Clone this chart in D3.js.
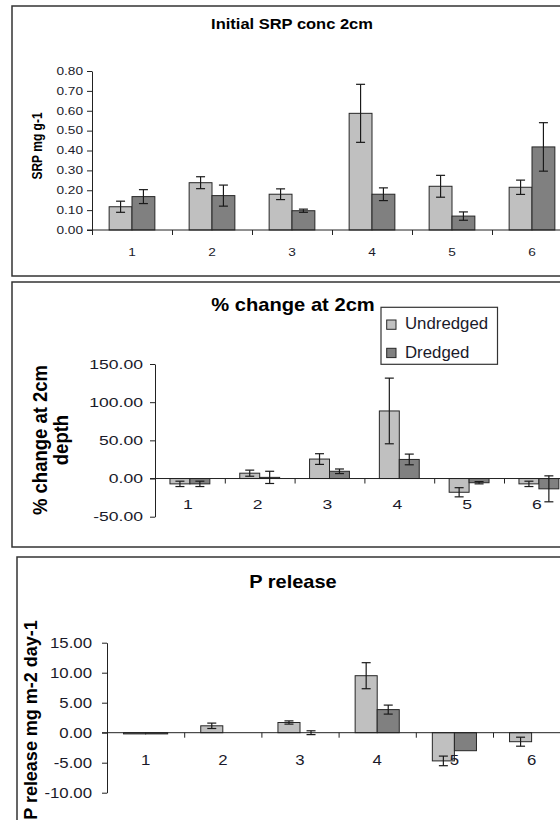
<!DOCTYPE html>
<html>
<head>
<meta charset="utf-8">
<script src="https://cdn.jsdelivr.net/npm/d3@7"></script>
<style>
  body { margin: 0; background: #fff; }
  svg { display: block; font-family: "Liberation Sans", Arial, sans-serif; }
</style>
</head>
<body>
<svg id="chart" width="560" height="820"></svg>
<script>
// ---- data ----
var categories = ["1", "2", "3", "4", "5", "6"];
var series = ["Undredged", "Dredged"];

// Initial SRP conc 2cm
var srpUndredged = [0.117, 0.238, 0.180, 0.587, 0.220, 0.215];
var srpUndredgedErr = [0.028, 0.030, 0.027, 0.146, 0.055, 0.036];
var srpDredged = [0.168, 0.173, 0.097, 0.180, 0.070, 0.418];
var srpDredgedErr = [0.035, 0.053, 0.008, 0.032, 0.021, 0.122];
var srpTicks = [0, 0.1, 0.2, 0.3, 0.4, 0.5, 0.6, 0.7, 0.8];

// % change at 2cm
var pctUndredged = [-7, 7, 25.5, 88.5, -18, -7];
var pctUndredgedErr = [3.5, 4, 7, 43, 6, 3.5];
var pctDredged = [-7, 1.5, 9.5, 25, -5.5, -13.5];
var pctDredgedErr = [3.5, 8, 3, 7, 1.5, 17];
var pctTicks = [-50, 0, 50, 100, 150];

// P release
var relUndredged = [-0.2, 1.15, 1.7, 9.5, -4.7, -1.5];
var relUndredgedErr = [0, 0.45, 0.27, 2.17, 0.8, 0.75];
var relDredged = [-0.2, 0, 0, 3.85, -3.0, 0];
var relDredgedErr = [0, 0, 0.32, 0.75, 0, 0];
var relTicks = [-10, -5, 0, 5, 10, 15];

var fills = { "Undredged": "#c0c0c0", "Dredged": "#808080" };

var svg = d3.select("#chart");

// text helper: stretched text like the source picture
function label(g, txt, x, y, size, sx, opts) {
  opts = opts || {};
  var t = "translate(" + x + "," + y + ") scale(" + sx + ",1)";
  if (opts.rotate) t += " rotate(-90)";
  return g.append("text")
    .attr("transform", t)
    .attr("font-size", size)
    .attr("font-weight", opts.bold ? "bold" : "normal")
    .attr("text-anchor", opts.anchor || "middle")
    .attr("fill", opts.color || "#000")
    .text(txt);
}

function panel(cfg) {
  var g = svg.append("g");

  // frame
  g.append("rect")
    .attr("x", cfg.box[0]).attr("y", cfg.box[1])
    .attr("width", cfg.box[2]).attr("height", cfg.box[3])
    .attr("fill", "#fff").attr("stroke", "#333").attr("stroke-width", 1.5);

  var x = d3.scaleBand().domain(categories)
    .range([cfg.x0, cfg.x0 + 6 * cfg.step]).padding(0);
  var xs = d3.scaleBand().domain(series)
    .range([0, x.bandwidth()]).paddingInner(0).paddingOuter(0.75);
  var xl = d3.scaleLinear().domain([0, 6]).range(x.range());
  var y = d3.scaleLinear().domain(cfg.domain).range(cfg.yRange);

  var rows = categories.map(function (c, i) {
    return [
      { cat: c, s: "Undredged", v: cfg.und[i], e: cfg.undErr[i] },
      { cat: c, s: "Dredged", v: cfg.dre[i], e: cfg.dreErr[i] }
    ];
  });
  var flat = [].concat.apply([], rows);

  // bars
  g.append("g").selectAll("rect")
    .data(flat.filter(function (d) { return d.v !== 0; }))
    .enter().append("rect")
    .attr("x", function (d) { return x(d.cat) + xs(d.s); })
    .attr("y", function (d) { return y(Math.max(0, d.v)); })
    .attr("width", xs.bandwidth())
    .attr("height", function (d) { return Math.abs(y(d.v) - y(0)); })
    .attr("fill", function (d) { return fills[d.s]; })
    .attr("stroke", "#262626").attr("stroke-width", 1);

  // x axis at zero: tick marks on boundaries, labels at centers
  var xAxis = g.append("g").attr("transform", "translate(0," + y(0) + ")")
    .call(d3.axisBottom(xl).tickValues(d3.range(7)).tickFormat("").tickSize(5).tickSizeOuter(0));
  xAxis.select(".domain").attr("stroke", "#222");
  xAxis.selectAll(".tick line").attr("stroke", "#222");
  xAxis.select(".domain").attr("d", "M" + (cfg.x0 - 5) + ",0H" + (cfg.x0 + 6 * cfg.step));

  categories.forEach(function (c) {
    label(g, c, x(c) + x.bandwidth() / 2 + (cfg.catShift || 0), cfg.catY, cfg.tickSize, cfg.tickSx, { color: "#1a1a2a" });
  });

  // error bars
  var eb = g.append("g").attr("stroke", "#1a1a1a").attr("stroke-width", 1.2);
  var withErr = flat.filter(function (d) { return d.e > 0; });
  eb.selectAll("line.v").data(withErr).enter().append("line")
    .attr("x1", function (d) { return x(d.cat) + xs(d.s) + xs.bandwidth() / 2; })
    .attr("x2", function (d) { return x(d.cat) + xs(d.s) + xs.bandwidth() / 2; })
    .attr("y1", function (d) { return y(d.v + d.e); })
    .attr("y2", function (d) { return y(d.v - d.e); });
  [1, -1].forEach(function (sg) {
    eb.selectAll("line.c" + sg).data(withErr).enter().append("line")
      .attr("x1", function (d) { return x(d.cat) + xs(d.s) + xs.bandwidth() / 2 - cfg.cap; })
      .attr("x2", function (d) { return x(d.cat) + xs(d.s) + xs.bandwidth() / 2 + cfg.cap; })
      .attr("y1", function (d) { return y(d.v + sg * d.e); })
      .attr("y2", function (d) { return y(d.v + sg * d.e); });
  });

  // y axis
  var yAxis = g.append("g").attr("transform", "translate(" + cfg.x0 + ",0)")
    .call(d3.axisLeft(y).tickValues(cfg.ticks).tickFormat("").tickSize(5).tickSizeOuter(0));
  yAxis.select(".domain").attr("stroke", "#222");
  yAxis.selectAll(".tick line").attr("stroke", "#222");
  cfg.ticks.forEach(function (t) {
    label(g, t.toFixed(2), cfg.x0 - cfg.labelGap, y(t) + cfg.tickSize * 0.36, cfg.tickSize, cfg.tickSx,
      { anchor: "end", color: "#1a1a2a" });
  });

  // title
  label(g, cfg.title, cfg.titleX, cfg.titleY, cfg.titleSize, cfg.titleSx, { bold: true });

  // y axis title (one or more lines)
  cfg.yTitle.forEach(function (line, i) {
    label(g, line, cfg.yTitleX[i], cfg.yTitleY, cfg.yTitleSize, cfg.yTitleSx, { bold: true, rotate: true });
  });

  return g;
}

panel({
  box: [12, 6, 620, 270],
  x0: 92, step: 80,
  domain: [0, 0.8], yRange: [230, 71], ticks: srpTicks,
  und: srpUndredged, undErr: srpUndredgedErr, dre: srpDredged, dreErr: srpDredgedErr,
  cap: 4.5, catY: 256, tickSize: 10.5, tickSx: 1.3, labelGap: 9,
  title: "Initial SRP conc 2cm", titleX: 292, titleY: 28.5, titleSize: 15, titleSx: 1.1,
  yTitle: ["SRP mg g-1"], yTitleX: [42], yTitleY: 146, yTitleSize: 12, yTitleSx: 1.2
});

var p2 = panel({
  box: [12, 282, 620, 265],
  x0: 155, step: 69.8,
  domain: [-50, 150], yRange: [516.7, 364], ticks: pctTicks,
  und: pctUndredged, undErr: pctUndredgedErr, dre: pctDredged, dreErr: pctDredgedErr,
  cap: 4.5, catY: 509, catShift: -2, tickSize: 13, tickSx: 1.35, labelGap: 12,
  title: "% change at 2cm", titleX: 293, titleY: 311, titleSize: 18, titleSx: 1.12,
  yTitle: ["% change at 2cm", "depth"], yTitleX: [46.5, 67.5], yTitleY: 440, yTitleSize: 18.5, yTitleSx: 1.08
});

// legend for the middle panel
var legend = p2.append("g");
legend.append("rect")
  .attr("x", 381).attr("y", 307.3).attr("width", 116.5).attr("height", 57)
  .attr("fill", "#fff").attr("stroke", "#333").attr("stroke-width", 1.2);
var ly = d3.scalePoint().domain(series).range([320, 348.3]);
legend.selectAll("rect.sw").data(series).enter().append("rect")
  .attr("class", "sw")
  .attr("x", 386.7).attr("y", function (d) { return ly(d); })
  .attr("width", 9.3).attr("height", 9.3)
  .attr("fill", function (d) { return fills[d]; })
  .attr("stroke", "#262626").attr("stroke-width", 1);
series.forEach(function (s) {
  label(legend, s, 405, ly(s) + 9.2, 16, 1.05, { anchor: "start", color: "#1a1a2a" });
});

panel({
  box: [17, 557, 620, 300],
  x0: 107, step: 77.2,
  domain: [-10, 15], yRange: [792.7, 642.7], ticks: relTicks,
  und: relUndredged, undErr: relUndredgedErr, dre: relDredged, dreErr: relDredgedErr,
  cap: 4.5, catY: 765, tickSize: 14, tickSx: 1.2, labelGap: 15,
  title: "P release", titleX: 293, titleY: 588, titleSize: 18, titleSx: 1.11,
  yTitle: ["P release mg m-2 day-1"], yTitleX: [36.5], yTitleY: 720, yTitleSize: 18, yTitleSx: 1.05
});
</script>
</body>
</html>
